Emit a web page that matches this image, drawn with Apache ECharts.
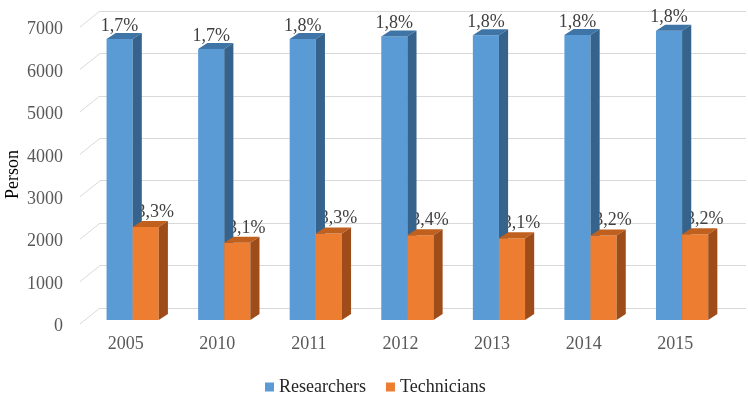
<!DOCTYPE html>
<html>
<head>
<meta charset="utf-8">
<script src="https://cdn.jsdelivr.net/npm/echarts@6/dist/echarts.min.js"></script>
<style>
  html, body { margin: 0; padding: 0; background: #fff; }
  #chart { width: 748px; height: 399px; }
</style>
</head>
<body>
<div id="chart"></div>
<script>
var years = ['2005', '2010', '2011', '2012', '2013', '2014', '2015']
var researchers = [6620, 6390, 6620, 6680, 6710, 6720, 6820]
var technicians = [2190, 1820, 2040, 2000, 1925, 1990, 2020]
var researcherShares = ['1,7%', '1,7%', '1,8%', '1,8%', '1,8%', '1,8%', '1,8%']
var technicianShares = ['3,3%', '3,1%', '3,3%', '3,4%', '3,1%', '3,2%', '3,2%']
var yTicks = [0, 1000, 2000, 3000, 4000, 5000, 6000, 7000]

var FONT = '"Liberation Serif", "Times New Roman", serif'
var FS = 18

// colours: front, top, side
var blue = ['#5B9BD5', '#3F74A6', '#35638C']
var orange = ['#ED7D31', '#C0601F', '#9E4C19']

// pseudo 3d bar, offset in band fractions
function bar3d(values, shift, colors) {
    return function (params, api) {
        var i = api.value(0)
        var band = api.size([1, 0])[0]
        var w = band * 0.285
        var dx = band * 0.1
        var dy = 6
        var base = api.coord([i, 0])
        var top = api.coord([i, api.value(1)])
        var x0 = base[0] + band * shift
        var yb = base[1] - 3
        var yt = top[1] - 3
        return {
            type: 'group',
            children: [
                { type: 'rect', shape: { x: x0, y: yt, width: w, height: yb - yt }, style: { fill: colors[0] } },
                { type: 'polygon', shape: { points: [[x0, yt], [x0 + w, yt], [x0 + w + dx, yt - dy], [x0 + dx, yt - dy]] }, style: { fill: colors[1] } },
                { type: 'polygon', shape: { points: [[x0 + w, yt], [x0 + w + dx, yt - dy], [x0 + w + dx, yb - dy], [x0 + w, yb]] }, style: { fill: colors[2] } }
            ]
        }
    }
}

function labels3d(texts, shift, extraX, extraY) {
    return function (params, api) {
        var i = api.value(0)
        var band = api.size([1, 0])[0]
        var w = band * 0.285
        var top = api.coord([i, api.value(1)])
        return {
            type: 'text',
            style: {
                x: top[0] + band * shift + w / 2 + extraX,
                y: top[1] - 3 + extraY,
                text: texts[i],
                fill: '#404040',
                font: FS + 'px ' + FONT,
                align: 'center',
                verticalAlign: 'middle'
            }
        }
    }
}

function pairs(arr) {
    return arr.map(function (v, i) { return [i, v] })
}

var chartDom = document.getElementById('chart')
var myChart = echarts.init(chartDom)
var option

option = {
    animation: false,
    textStyle: { fontFamily: FONT },
    legend: {
        data: [
            { name: 'Researchers', icon: 'rect' },
            { name: 'Technicians', icon: 'rect' }
        ],
        left: 260,
        top: 373,
        itemWidth: 9,
        itemHeight: 9,
        itemGap: 20,
        textStyle: { fontFamily: FONT, fontSize: FS, color: '#262626' }
    },
    grid: [
        // front plane, carries the labels
        { left: 80, right: 27, top: 26, bottom: 76, outerBoundsMode: 'none' },
        // back wall with the grid lines
        { left: 100, right: 2, top: 11, bottom: 91, outerBoundsMode: 'none' }
    ],
    xAxis: [
        {
            type: 'category',
            gridIndex: 0,
            data: years,
            axisLine: { show: false },
            axisTick: { show: false },
            axisLabel: { color: '#595959', fontSize: FS, fontFamily: FONT, margin: 12 }
        },
        { type: 'category', gridIndex: 1, data: years, show: false }
    ],
    yAxis: [
        {
            type: 'value',
            gridIndex: 0,
            min: 0,
            max: 7000,
            interval: 1000,
            name: 'Person',
            nameLocation: 'middle',
            nameRotate: 90,
            nameGap: 58,
            nameMoveOverlap: false,
            nameTextStyle: { color: '#000', fontSize: FS, fontFamily: FONT },
            axisLine: { show: false },
            axisTick: { show: false },
            splitLine: { show: false },
            axisLabel: {
                color: '#595959', fontSize: FS, fontFamily: FONT, margin: 17,
                verticalAlign: 'top',
                lineHeight: 7,
                formatter: function (v) { return String(v) }
            }
        },
        {
            type: 'value',
            gridIndex: 1,
            min: 0,
            max: 7000,
            interval: 1000,
            axisLine: { show: false },
            axisTick: { show: false },
            axisLabel: { show: false },
            splitLine: { lineStyle: { color: '#d9d9d9', width: 1 } }
        }
    ],
    series: [
        {
            // floor diagonals from the front labels to the back wall
            type: 'custom',
            name: 'diag',
            xAxisIndex: 0,
            yAxisIndex: 0,
            z: 1,
            silent: true,
            data: yTicks.map(function (v) { return [0, v] }),
            renderItem: function (params, api) {
                var c = api.coord([0, api.value(1)])
                var x = params.coordSys.x
                return {
                    type: 'line',
                    shape: { x1: x, y1: c[1] + 1, x2: x + 20, y2: c[1] - 15 },
                    style: { stroke: '#d9d9d9', lineWidth: 1 }
                }
            }
        },
        {
            type: 'custom',
            name: 'techLabels',
            xAxisIndex: 0,
            yAxisIndex: 0,
            z: 2,
            silent: true,
            data: pairs(technicians),
            renderItem: labels3d(technicianShares, 0.07, 10, -15)
        },
        {
            type: 'custom',
            name: 'Researchers',
            xAxisIndex: 0,
            yAxisIndex: 0,
            z: 3,
            itemStyle: { color: blue[0] },
            data: pairs(researchers),
            renderItem: bar3d(researchers, -0.21, blue)
        },
        {
            type: 'custom',
            name: 'Technicians',
            xAxisIndex: 0,
            yAxisIndex: 0,
            z: 4,
            itemStyle: { color: orange[0] },
            data: pairs(technicians),
            renderItem: bar3d(technicians, 0.075, orange)
        },
        {
            type: 'custom',
            name: 'resLabels',
            xAxisIndex: 0,
            yAxisIndex: 0,
            z: 5,
            silent: true,
            data: pairs(researchers),
            renderItem: labels3d(researcherShares, -0.21, 0, -13)
        }
    ]
}

option && myChart.setOption(option)
</script>
</body>
</html>
